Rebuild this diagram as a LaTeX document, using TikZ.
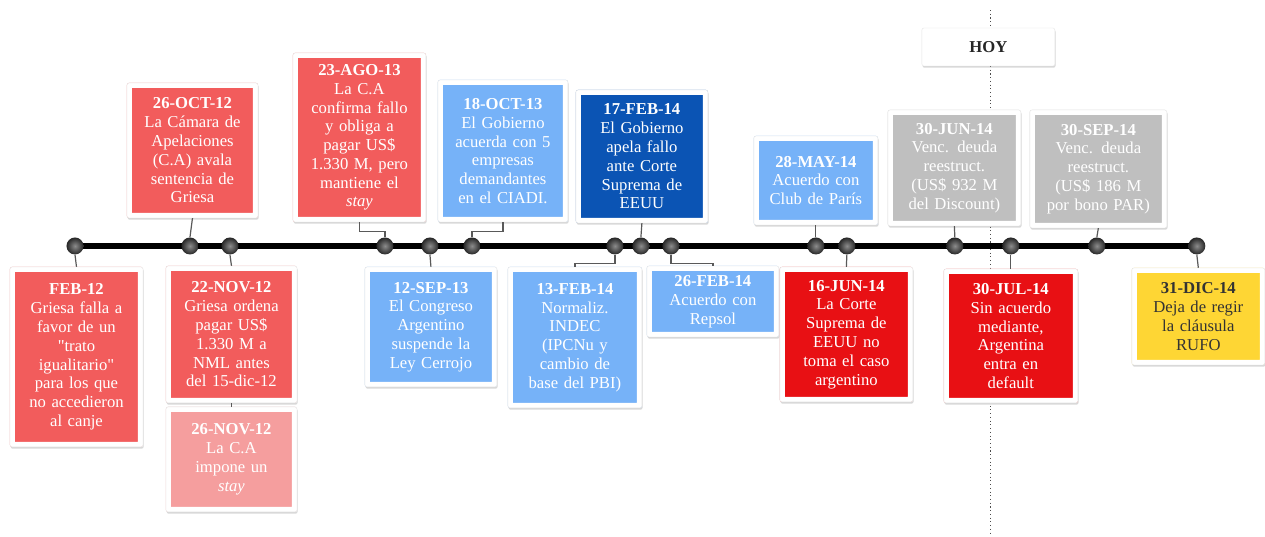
\documentclass[tikz,border=0pt]{standalone}
\usepackage{fontspec}
\setmainfont{Liberation Serif}
\usetikzlibrary{shadows}
\pgfdeclarelayer{bg}
\pgfsetlayers{bg,main}
\definecolor{salmon}{RGB}{242,92,92}
\definecolor{rosa}{RGB}{245,158,158}
\definecolor{celeste}{RGB}{118,178,248}
\definecolor{azul}{RGB}{11,84,180}
\definecolor{gris}{RGB}{191,191,191}
\definecolor{rojo}{RGB}{232,16,20}
\definecolor{amarillo}{RGB}{254,214,52}

\begin{document}
\begin{tikzpicture}[x=0.75pt,y=0.75pt,yscale=-1,xscale=1,
  card/.style={fill=white, draw=black!10, line width=0.3pt, rounded corners=1.5pt,
    inner sep=0pt, text width=88pt, align=center, text=white,
    font=\fontsize{12.5}{14.1}\selectfont,
    drop shadow={shadow xshift=0.5pt, shadow yshift=-1.3pt, opacity=0.3},
    path picture={\fill[#1] (path picture bounding box.south west) rectangle (path picture bounding box.north east);
      \draw[white, line width=7.5pt] (path picture bounding box.south west) rectangle (path picture bounding box.north east);}},
  boxsize/.style 2 args={minimum width=#1*0.75pt, minimum height=#2*0.75pt},
  dot/.style={circle, inner sep=0pt, minimum size=12.75pt, shading=radial,
    inner color=black!45, outer color=black!85},
  conn/.style={draw=black!65, line width=0.9pt},
  axis/.style={line width=4.5pt, black},
  hoyline/.style={black!70, dotted, line width=0.8pt}]
\begin{pgfonlayer}{bg}
\useasboundingbox[fill=white] (0,0) rectangle (1265,536);
\end{pgfonlayer}

%Timeline dots
\node[dot] (d1) at (75,246) {};
\node[dot] (d2) at (190,246) {};
\node[dot] (d3) at (230,246) {};
\node[dot] (d4) at (385,246) {};
\node[dot] (d5) at (430,246) {};
\node[dot] (d6) at (472,246) {};
\node[dot] (d7) at (615,246) {};
\node[dot] (d8) at (641,246) {};
\node[dot] (d9) at (671,246) {};
\node[dot] (d10) at (816,246) {};
\node[dot] (d11) at (847,246) {};
\node[dot] (d12) at (955,246) {};
\node[dot] (d13) at (1011,246) {};
\node[dot] (d14) at (1097,246) {};
\node[dot] (d15) at (1197,246) {};

%Today marker and axis
\coordinate (hoytop) at (991,10);
\coordinate (hoybot) at (991,536);
\begin{pgfonlayer}{bg}
\draw[hoyline] (hoytop) -- (hoybot);
\draw[axis] (d1.center) -- (d15.center);
\end{pgfonlayer}

% Upper boxes
\node[card=salmon, boxsize={131}{135}] (oct12) at (192.5,150.5) {\textbf{26-OCT-12}\\La Cámara de\\Apelaciones\\(C.A) avala\\sentencia de\\Griesa};
\node[card=salmon, boxsize={133}{169}] (ago13) at (359.5,137.5) {\textbf{23-AGO-13}\\La C.A\\confirma fallo\\y obliga a\\pagar US\$\\1.330 M, pero\\mantiene el\\\textit{stay}};
\node[card=celeste, boxsize={130}{142}] (oct13) at (503,151) {\textbf{18-OCT-13}\\El Gobierno\\acuerda con 5\\empresas\\demandantes\\en el CIADI.};
\node[card=azul, boxsize={132}{133}] (feb17) at (642,156.5) {\textbf{17-FEB-14}\\El Gobierno\\apela fallo\\ante Corte\\Suprema de\\EEUU};
\node[card=celeste, boxsize={124}{89}] (may14) at (816,180.5) {\textbf{28-MAY-14}\\Acuerdo con\\Club de París};
\node[card=white, boxsize={133}{38}, text=black!85] (hoy) at (988.5,47) {\textbf{HOY}};
\node[card=gris, boxsize={133}{116}] (jun30) at (954.5,168) {\textbf{30-JUN-14}\\Venc. deuda\\reestruct.\\(US\$ 932 M\\del Discount)};
\node[card=gris, boxsize={137}{118}] (sep14) at (1098.5,169) {\textbf{30-SEP-14}\\Venc. deuda\\reestruct.\\(US\$ 186 M\\por bono PAR)};

% Lower boxes
\node[card=salmon, boxsize={133}{180}] (feb12) at (76.5,357) {\textbf{FEB-12}\\Griesa falla a\\favor de un\\\textquotedbl trato\\igualitario\textquotedbl\\para los que\\no accedieron\\al canje};
\node[card=salmon, boxsize={131}{137}] (nov22) at (231.5,334.5) {\textbf{22-NOV-12}\\Griesa ordena\\pagar US\$\\1.330 M a\\NML antes\\del 15-dic-12};
\node[card=rosa, boxsize={131}{105}] (nov26) at (231.5,459.5) {\textbf{26-NOV-12}\\La C.A\\impone un\\\textit{stay}};
\node[card=celeste, boxsize={132}{120}] (sep13) at (431,327) {\textbf{12-SEP-13}\\El Congreso\\Argentino\\suspende la\\Ley Cerrojo};
\node[card=celeste, boxsize={134}{141}] (feb13) at (575,337.5) {\textbf{13-FEB-14}\\Normaliz.\\INDEC\\(IPCNu y\\cambio de\\base del PBI)};
\node[card=celeste, boxsize={132}{71}] (feb26) at (713,301.5) {\textbf{26-FEB-14}\\Acuerdo con\\Repsol};
\node[card=rojo, boxsize={133}{135}] (jun16) at (846.5,334.5) {\textbf{16-JUN-14}\\La Corte\\Suprema de\\EEUU no\\toma el caso\\argentino};
\node[card=rojo, boxsize={134}{134}] (jul14) at (1011,336) {\textbf{30-JUL-14}\\Sin acuerdo\\mediante,\\Argentina\\entra en\\default};
\node[card=amarillo, boxsize={133}{97}, text=black!80] (dic14) at (1198.5,316.5) {\textbf{31-DIC-14}\\Deja de regir\\la cláusula\\RUFO};

%Connectors
\draw[conn] (oct12.south) -- (d2.north);
\draw[conn] (ago13.south) -- ++(0,9) -| (d4.north);
\draw[conn] (oct13.south) -- ++(0,9) -| (d6.north);
\draw[conn] (feb17.south) -- (d8.north);
\draw[conn] (may14.south) -- (d10.north);
\draw[conn] (jun30.south) -- (d12.north);
\draw[conn] (sep14.south) -- (d14.north);
\draw[conn] (d1.south) -- (feb12.north);
\draw[conn] (d3.south) -- (nov22.north);
\draw[conn] (nov22.south) -- (nov26.north);
\draw[conn] (d5.south) -- (sep13.north);
\draw[conn] (d7.south) -- ++(0,9) -| (feb13.north);
\draw[conn] (d9.south) -- ++(0,9) -| (feb26.north);
\draw[conn] (d11.south) -- (jun16.north);
\draw[conn] (d13.south) -- (jul14.north);
\draw[conn] (d15.south) -- (dic14.north);
\end{tikzpicture}
\end{document}
